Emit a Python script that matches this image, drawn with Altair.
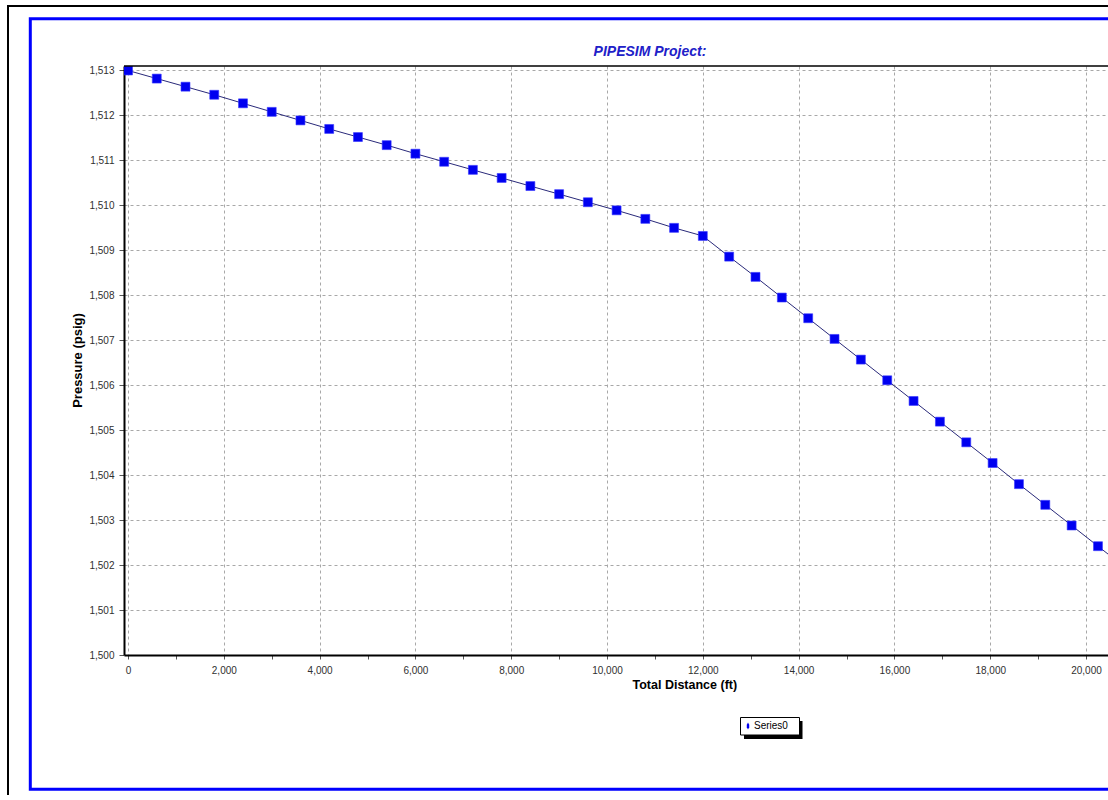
import altair as alt
import pandas as pd

# ---- data ----
distance_ft = [0, 600, 1200, 1800, 2400, 3000, 3600, 4200, 4800, 5400, 6000,
               6600, 7200, 7800, 8400, 9000, 9600, 10200, 10800, 11400, 12000,
               12550, 13100, 13650, 14200, 14750, 15300, 15850, 16400, 16950,
               17500, 18050, 18600, 19150, 19700, 20250, 20800]
pressure_psig = [1513.00, 1512.82, 1512.64, 1512.46, 1512.27, 1512.08, 1511.89,
                 1511.70, 1511.52, 1511.34, 1511.15, 1510.97, 1510.79, 1510.61,
                 1510.43, 1510.25, 1510.07, 1509.89, 1509.70, 1509.50, 1509.32,
                 1508.86, 1508.41, 1507.95, 1507.49, 1507.03, 1506.57, 1506.11,
                 1505.65, 1505.19, 1504.73, 1504.27, 1503.80, 1503.34, 1502.88,
                 1502.42, 1501.96]
series_name = "Series0"
chart_title = "PIPESIM Project:"
y_ticks = list(range(1500, 1514))
x_ticks = list(range(0, 20500, 500))

df = pd.DataFrame({"dist": distance_ft, "pres": pressure_psig,
                   "series": [series_name] * len(distance_ft)})

W, H = 984, 589
FONT = "Liberation Sans"

xscale = alt.Scale(domain=[-84, 20459], nice=False, zero=False)
yscale = alt.Scale(domain=[1500, 1513.1], nice=False, zero=False)

xaxis = alt.Axis(
    values=x_ticks,
    labelExpr="datum.value % 2000 === 0 ? format(datum.value, ',') : ''",
    title="Total Distance (ft)",
    titleFont=FONT, titleFontSize=12.5, titleFontWeight="bold", titleColor="black",
    titleX=508, titleY=29, titleAlign="left", titleBaseline="middle",
    labelFont=FONT, labelFontSize=10, labelColor="#303030", labelPadding=6,
    tickSize=4, tickColor="#555555", domainColor="black", domainWidth=2,
    grid=True, gridColor="#a8a8a8", gridDash=[3, 3], gridWidth=1,
    gridOpacity={"condition": {"test": "datum.value % 2000 === 0", "value": 1}, "value": 0},
    labelFlush=False, labelOverlap=False,
)
yaxis = alt.Axis(
    values=y_ticks, format=",",
    title="Pressure (psig)",
    titleFont=FONT, titleFontSize=13, titleFontWeight="bold", titleColor="black",
    titleX=-47, titleY=294, titleAlign="center", titleBaseline="middle", titleAngle=-90,
    labelFont=FONT, labelFontSize=10, labelColor="#303030", labelPadding=5,
    tickSize=5, tickColor="#555555", domainColor="black", domainWidth=2,
    grid=True, gridColor="#a8a8a8", gridDash=[3, 3], gridWidth=1,
    labelFlush=False, labelOverlap=False,
)

base = alt.Chart(df)

line = base.mark_line(color="#2a2a7a", strokeWidth=1, clip=True).encode(
    x=alt.X("dist:Q", scale=xscale, axis=xaxis),
    y=alt.Y("pres:Q", scale=yscale, axis=yaxis),
)

points = base.mark_point(shape="square", filled=True, size=80, opacity=1,
                         stroke="#3535ff", strokeWidth=0.6, clip=True).encode(
    x=alt.X("dist:Q", scale=xscale),
    y=alt.Y("pres:Q", scale=yscale),
    color=alt.Color("series:N",
                    scale=alt.Scale(domain=[series_name], range=["#0000f0"]),
                    legend=alt.Legend(
                        orient="none", legendX=619, legendY=655, title=None,
                        padding=0, symbolType="M0,-1L0.35,-0.35L0.35,0.35L0,1L-0.35,0.35L-0.35,-0.35Z",
                        symbolSize=49, symbolStrokeWidth=0,
                        labelFont=FONT, labelFontSize=10, labelColor="black",
                        labelOffset=1)),
)

one = pd.DataFrame({"t": [chart_title]})
decor = alt.Chart(one)

outer_black = decor.mark_rect(fillOpacity=0, stroke="black", strokeWidth=2).encode(
    x=alt.value(-116), x2=alt.value(2000), y=alt.value(-60), y2=alt.value(2000))
outer_blue = decor.mark_rect(fillOpacity=0, stroke="#0000ff", strokeWidth=3).encode(
    x=alt.value(-93.7), x2=alt.value(2000), y=alt.value(-47.3), y2=alt.value(723.2))
top_border = decor.mark_rule(stroke="black", strokeWidth=1.6).encode(
    x=alt.value(0), x2=alt.value(W), y=alt.value(0))
legend_shadow = decor.mark_rect(fill="black").encode(
    x=alt.value(620), x2=alt.value(678.5), y=alt.value(655), y2=alt.value(673))
legend_box = decor.mark_rect(fill="white", stroke="black", strokeWidth=1).encode(
    x=alt.value(616.5), x2=alt.value(675.5), y=alt.value(651.5), y2=alt.value(669))
title_text = decor.mark_text(font=FONT, fontSize=14, fontWeight="bold",
                             fontStyle="italic", color="#2020c8",
                             align="center", baseline="middle").encode(
    x=alt.value(526), y=alt.value(-14.5), text="t:N")

chart = alt.layer(
    outer_black, outer_blue, legend_shadow, legend_box, line, points,
    top_border, title_text
).properties(
    width=W, height=H,
    autosize=alt.AutoSizeParams(type="none"),
    padding={"left": 124, "top": 66, "right": 0, "bottom": 140},
    background="white",
).configure_view(stroke=None)

chart.save("out.html", embed_options={"renderer": "svg", "actions": False})
